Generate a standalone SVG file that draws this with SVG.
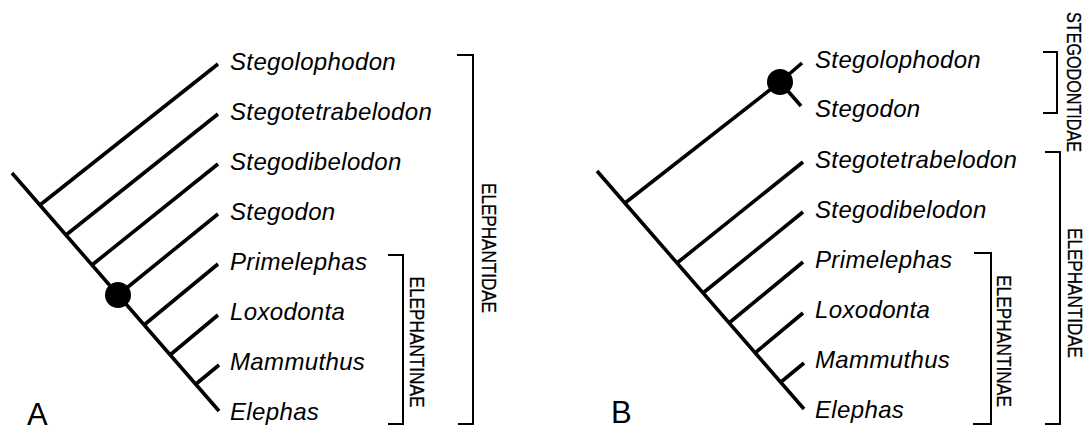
<svg xmlns="http://www.w3.org/2000/svg" width="1086" height="427" viewBox="0 0 1086 427">
<style>
.br{stroke:#000;stroke-width:3.6;fill:none;stroke-linecap:butt}
.bk{stroke:#000;stroke-width:2;fill:none}
.tx{font-family:"Liberation Sans",Arial,sans-serif;font-style:italic;font-size:24px;letter-spacing:0.35px;fill:#000}
.gp{font-family:"Liberation Sans",Arial,sans-serif;font-size:21px;fill:#000;stroke:#000;stroke-width:0.3}
.pl{font-family:"Liberation Sans",Arial,sans-serif;font-size:31px;fill:#000}
.dot{fill:#000}
</style>
<rect width="1086" height="427" fill="#fff"/>
<g id="connectors">
  <g id="tree-A">
    <path class="br" d="M12,173 L219,411"/>
    <path class="br" d="M40,205 L218,64"/>
    <path class="br" d="M66,235 L218,114"/>
    <path class="br" d="M92,265 L218,164"/>
    <path class="br" d="M118,295 L218,214"/>
    <path class="br" d="M144,325 L218,264"/>
    <path class="br" d="M170,355 L218,315"/>
    <path class="br" d="M196,384 L219,365"/>
  </g>
  <g id="tree-B">
    <path class="br" d="M597,171 L804,409"/>
    <path class="br" d="M625,203 L780,82"/>
    <path class="br" d="M780,82 L802,63"/>
    <path class="br" d="M780,82 L801,106"/>
    <path class="br" d="M677,263 L803,162"/>
    <path class="br" d="M703,293 L803,212"/>
    <path class="br" d="M729,323 L803,262"/>
    <path class="br" d="M755,353 L803,313"/>
    <path class="br" d="M781,382 L804,363"/>
  </g>
  <g id="brackets">
    <path class="bk" d="M457,55 H473 V424 H458"/>
    <path class="bk" d="M388,255 H403 V424 H388"/>
    <path class="bk" d="M1043,52 H1057 V113 H1043"/>
    <path class="bk" d="M1045,152 H1060 V424 H1045"/>
    <path class="bk" d="M974,253 H991 V424 H973"/>
  </g>
</g>
<g id="node-A-dot"><circle class="dot" cx="118" cy="295" r="13"/></g>
<g id="node-B-dot"><circle class="dot" cx="780" cy="82" r="13"/></g>
<g id="A-Stegolophodon"><text class="tx" x="230" y="70">Stegolophodon</text></g>
<g id="A-Stegotetrabelodon"><text class="tx" x="230" y="120">Stegotetrabelodon</text></g>
<g id="A-Stegodibelodon"><text class="tx" x="230" y="170">Stegodibelodon</text></g>
<g id="A-Stegodon"><text class="tx" x="230" y="220">Stegodon</text></g>
<g id="A-Primelephas"><text class="tx" x="230" y="270">Primelephas</text></g>
<g id="A-Loxodonta"><text class="tx" x="230" y="320">Loxodonta</text></g>
<g id="A-Mammuthus"><text class="tx" x="230" y="370">Mammuthus</text></g>
<g id="A-Elephas"><text class="tx" x="230" y="420">Elephas</text></g>
<g id="A-Elephantidae"><text class="gp" transform="translate(482,248) rotate(90)" text-anchor="middle" textLength="130" lengthAdjust="spacingAndGlyphs">ELEPHANTIDAE</text></g>
<g id="A-Elephantinae"><text class="gp" transform="translate(410,342) rotate(90)" text-anchor="middle" textLength="131" lengthAdjust="spacingAndGlyphs">ELEPHANTINAE</text></g>
<g id="B-Stegolophodon"><text class="tx" x="815" y="68">Stegolophodon</text></g>
<g id="B-Stegodon"><text class="tx" x="815" y="117">Stegodon</text></g>
<g id="B-Stegotetrabelodon"><text class="tx" x="815" y="168">Stegotetrabelodon</text></g>
<g id="B-Stegodibelodon"><text class="tx" x="815" y="218">Stegodibelodon</text></g>
<g id="B-Primelephas"><text class="tx" x="815" y="268">Primelephas</text></g>
<g id="B-Loxodonta"><text class="tx" x="815" y="318">Loxodonta</text></g>
<g id="B-Mammuthus"><text class="tx" x="815" y="368">Mammuthus</text></g>
<g id="B-Elephas"><text class="tx" x="815" y="418">Elephas</text></g>
<g id="B-Stegodontidae"><text class="gp" transform="translate(1067,82) rotate(90)" text-anchor="middle" textLength="140" lengthAdjust="spacingAndGlyphs">STEGODONTIDAE</text></g>
<g id="B-Elephantidae"><text class="gp" transform="translate(1068,293) rotate(90)" text-anchor="middle" textLength="130" lengthAdjust="spacingAndGlyphs">ELEPHANTIDAE</text></g>
<g id="B-Elephantinae"><text class="gp" transform="translate(997,341) rotate(90)" text-anchor="middle" textLength="132" lengthAdjust="spacingAndGlyphs">ELEPHANTINAE</text></g>
<g id="label-A"><text class="pl" x="27" y="425">A</text></g>
<g id="label-B"><text class="pl" x="611" y="423">B</text></g>
</svg>
